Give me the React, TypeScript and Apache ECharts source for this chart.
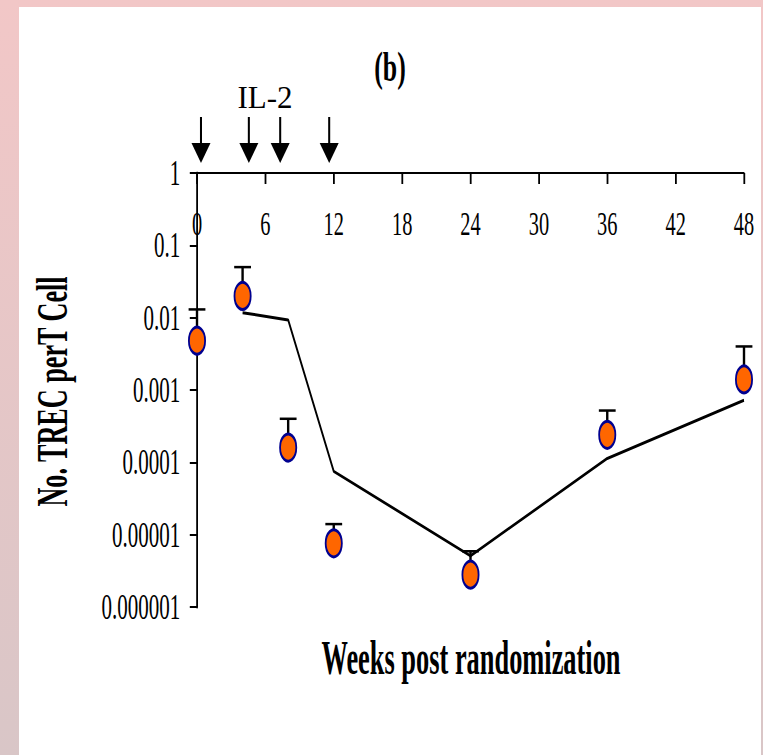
import React, { useEffect, useRef } from "react";
import * as echarts from "echarts";

// ---- data ----
const weeks = [0, 4, 8, 12, 24, 36, 48];
const meanTrec = [0.0048, 0.02, 0.00016, 0.0000076, 0.0000028, 0.00024, 0.0014];
const upperTrec = [0.013, 0.05, 0.0004, 0.000014, 0.0000059, 0.00052, 0.004];
const fitWeeks = [4, 8, 12, 24, 36, 48];
const fitTrec = [0.0117, 0.0093, 0.000075, 0.0000051, 0.000113, 0.00072];
const il2Weeks = [0.35, 4.55, 7.3, 11.6];
const yTickLabels = ["0.000001", "0.00001", "0.0001", "0.001", "0.01", "0.1", "1"];

const S = 0.6; // horizontal condensing of the whole figure
const W = 1272;
const H = 755;
const px = (screenX: number) => screenX / S;

export default function App() {
  const ref = useRef<HTMLDivElement>(null);

  useEffect(() => {
    if (!ref.current) return;
    const chart = echarts.init(ref.current, null, { renderer: "svg" });
    const font = "Liberation Serif";

    const errData = weeks.map((w, i) => [w, meanTrec[i], upperTrec[i]]);
    const ptData = weeks.map((w, i) => [w, meanTrec[i]]);
    const fitData = fitWeeks.map((w, i) => [w, fitTrec[i]]);
    const arrowData = il2Weeks.map((w) => [w, 1]);

    chart.setOption({
      animation: false,
      backgroundColor: new echarts.graphic.LinearGradient(0, 0, 0, 1, [
        { offset: 0, color: "#f2c7c7" },
        { offset: 1, color: "#d9c6c7" },
      ]),
      grid: {
        left: px(197),
        right: W - px(744),
        top: 173,
        bottom: H - 607,
        containLabel: false,
        outerBoundsMode: "none",
      },
      xAxis: {
        type: "value",
        position: "top",
        min: 0,
        max: 48,
        interval: 6,
        axisLine: { show: true, onZero: false, lineStyle: { color: "#000", width: 2 } },
        axisTick: { show: true, inside: true, length: 11, lineStyle: { color: "#000", width: 3 } },
        axisLabel: {
          show: true,
          inside: true,
          margin: 33,
          fontSize: 34,
          fontFamily: font,
          color: "#000",
        },
        splitLine: { show: false },
      },
      yAxis: {
        type: "log",
        logBase: 10,
        min: 0.000001,
        max: 1,
        interval: 1,
        axisLine: { show: true, onZero: false, lineStyle: { color: "#000", width: 3 } },
        axisTick: { show: true, length: 12, lineStyle: { color: "#000", width: 2 } },
        minorTick: { show: false },
        axisLabel: {
          show: true,
          margin: 28,
          fontSize: 35,
          fontFamily: font,
          color: "#000",
          formatter: (v: number) => yTickLabels[Math.round(Math.log10(v)) + 6] ?? "",
        },
        splitLine: { show: false },
      },
      graphic: [
        {
          type: "rect",
          z: -100,
          silent: true,
          shape: { x: px(19), y: 7, width: px(761) - px(19), height: 760 },
          style: { fill: "#ffffff" },
        },
        {
          type: "text",
          x: px(390),
          y: 66,
          style: {
            text: "(b)",
            fontSize: 43,
            fontWeight: "bold",
            fontFamily: font,
            fill: "#000",
            align: "center",
            verticalAlign: "middle",
          },
        },
        {
          type: "text",
          x: px(265),
          y: 98,
          scaleX: 1 / S,
          style: {
            text: "IL-2",
            fontSize: 31,
            fontFamily: font,
            fill: "#000",
            align: "center",
            verticalAlign: "middle",
          },
        },
        {
          type: "text",
          x: px(471),
          y: 658,
          scaleY: 1.08,
          style: {
            text: "Weeks post randomization",
            fontSize: 44,
            fontWeight: "bold",
            fontFamily: font,
            fill: "#000",
            align: "center",
            verticalAlign: "middle",
          },
        },
        {
          type: "text",
          x: px(52.5),
          y: 391.5,
          rotation: Math.PI / 2,
          scaleX: 0.77,
          scaleY: 1.3 / S,
          style: {
            text: "No. TREC perT Cell",
            fontSize: 34,
            fontWeight: "bold",
            fontFamily: font,
            fill: "#000",
            align: "center",
            verticalAlign: "middle",
          },
        },
      ],
      series: [
        {
          type: "custom",
          name: "IL-2 doses",
          clip: false,
          z: 3,
          data: arrowData,
          renderItem: (_p: any, api: any) => {
            const c = api.coord([api.value(0), api.value(1)]);
            const x = c[0];
            const top = c[1];
            const hw = 9.5 / S;
            return {
              type: "group",
              children: [
                {
                  type: "line",
                  shape: { x1: x, y1: top - 56, x2: x, y2: top - 29 },
                  style: { stroke: "#000", lineWidth: 3.4 },
                },
                {
                  type: "polygon",
                  shape: {
                    points: [
                      [x - hw, top - 30],
                      [x + hw, top - 30],
                      [x, top - 10],
                    ],
                  },
                  style: { fill: "#000" },
                },
              ],
            };
          },
        },
        {
          type: "line",
          name: "fit",
          data: fitData,
          symbol: "none",
          z: 2,
          lineStyle: { color: "#000", width: 3 },
        },
        {
          type: "custom",
          name: "error",
          clip: false,
          z: 3,
          data: errData,
          renderItem: (_p: any, api: any) => {
            const m = api.coord([api.value(0), api.value(1)]);
            const u = api.coord([api.value(0), api.value(2)]);
            const cw = 14;
            return {
              type: "group",
              children: [
                {
                  type: "line",
                  shape: { x1: m[0], y1: m[1], x2: u[0], y2: u[1] },
                  style: { stroke: "#000", lineWidth: 4 },
                },
                {
                  type: "line",
                  shape: { x1: u[0] - cw, y1: u[1], x2: u[0] + cw, y2: u[1] },
                  style: { stroke: "#000", lineWidth: 2.5 },
                },
              ],
            };
          },
        },
        {
          type: "scatter",
          name: "TREC",
          data: ptData,
          z: 5,
          symbol: "circle",
          symbolSize: 27,
          itemStyle: { color: "#ff6600", borderColor: "#000090", borderWidth: 3, opacity: 1 },
        },
      ],
    });

    return () => chart.dispose();
  }, []);

  return (
    <div
      style={{
        position: "fixed",
        left: 0,
        top: 0,
        width: 763,
        height: 755,
        overflow: "hidden",
        background: "#f1c7c7",
      }}
    >
      <div
        ref={ref}
        style={{ width: W, height: H, transform: `scaleX(${S})`, transformOrigin: "0 0" }}
      />
    </div>
  );
}
